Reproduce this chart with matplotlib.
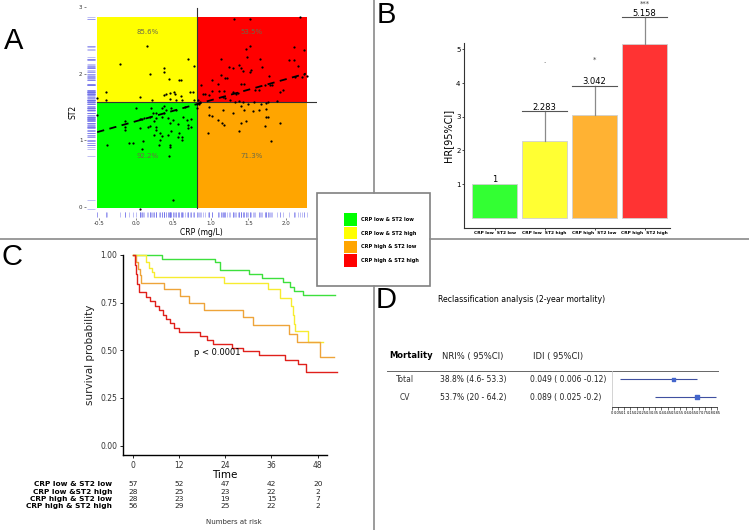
import numpy as np
import matplotlib
matplotlib.use("Agg")
import matplotlib.pyplot as plt
from matplotlib.patches import Rectangle
import matplotlib.transforms as mtransforms

W, H = 749, 530

# ---- panel A: CRP vs ST2 scatter
crp = [-0.52, -0.52, -0.40, -0.40, -0.39, -0.22, -0.15, -0.15, -0.15, -0.09,
       -0.04, 0.00, 0.05, 0.05, 0.06, 0.08, 0.09, 0.11, 0.05, 0.08,
       0.15, 0.18, 0.21, 0.20, 0.23, 0.16, 0.18, 0.26, 0.27, 0.26,
       0.27, 0.24, 0.32, 0.30, 0.35, 0.38, 0.38, 0.37, 0.40, 0.44,
       0.45, 0.46, 0.51, 0.52, 0.54, 0.57, 0.60, 0.60, 0.61, 0.37,
       0.37, 0.40, 0.35, 0.43, 0.47, 0.45, 0.49, 0.47, 0.43, 0.46,
       0.45, 0.44, 0.54, 0.56, 0.58, 0.61, 0.63, 0.65, 0.68, 0.69,
       0.70, 0.73, 0.74, 0.69, 0.72, 0.76, 0.77, 0.78, 0.81, 0.49,
       0.05, 0.61, 0.56, 0.32, 0.35, 0.24, 0.19,
       1.31, 1.52, 2.19, 1.53, 1.47, 2.11, 2.25, 1.13, 1.48, 1.66,
       2.04, 2.11, 2.16, 1.24, 1.30, 1.38, 1.41, 1.43, 1.53, 1.54,
       1.68, 1.13, 1.19, 1.22, 1.78, 1.01, 1.10, 1.41, 1.44, 0.87,
       1.01, 1.11, 1.18, 1.30, 1.34, 1.36, 1.59, 1.64, 1.72, 1.79,
       1.82, 1.92, 1.96, 2.12, 2.22, 2.25, 2.28, 0.89, 0.97, 1.16,
       1.19, 1.25, 1.32, 1.38, 1.43, 1.50, 1.58, 1.67, 1.74, 1.77,
       1.89, 0.83, 0.85, 0.84, 0.82, 0.97, 1.16, 1.30, 1.44, 1.56,
       1.65, 1.74, 1.40, 0.98, 1.01, 1.10, 1.15, 1.17, 1.41, 1.47,
       1.74, 1.77, 1.73, 1.93, 0.96, 1.38, 1.80, 0.92]
st2 = [1.64, 1.37, 1.72, 1.60, 0.93, 2.15, 1.29, 1.20, 1.15, 0.95,
       0.95, 1.49, 1.65, 1.31, 1.32, 1.31, 0.98, 1.33, 1.18, 0.86,
       2.42, 2.00, 1.61, 1.49, 1.41, 1.20, 1.21, 1.40, 1.33, 1.20,
       1.15, 1.08, 1.00, 0.93, 1.06, 2.08, 2.03, 1.68, 1.69, 1.92,
       1.71, 1.62, 1.73, 1.70, 1.60, 1.90, 1.90, 1.67, 1.60, 1.51,
       1.40, 1.45, 1.35, 1.33, 1.49, 1.26, 1.30, 1.13, 1.08, 0.90,
       0.93, 0.76, 1.45, 1.24, 1.11, 1.00, 1.35, 1.50, 1.30, 1.23,
       1.18, 1.31, 1.19, 2.22, 1.73, 1.72, 2.11, 1.61, 1.55, 0.10,
       -0.04, 1.05, 1.05, 1.11, 1.49, 1.29, 1.35,
       2.82, 2.82, 2.85, 2.42, 2.37, 2.40, 2.36, 2.22, 2.25, 2.22,
       2.20, 2.20, 2.12, 2.10, 2.08, 2.13, 2.09, 2.04, 2.03, 2.05,
       2.10, 1.98, 1.94, 1.94, 1.96, 1.90, 1.85, 1.85, 1.84, 1.83,
       1.74, 1.74, 1.74, 1.73, 1.69, 1.71, 1.75, 1.76, 1.83, 1.83,
       1.83, 1.73, 1.76, 1.95, 1.95, 1.99, 1.96, 1.70, 1.68, 1.65,
       1.63, 1.61, 1.57, 1.59, 1.58, 1.54, 1.58, 1.55, 1.56, 1.57,
       1.59, 1.60, 1.58, 1.55, 1.48, 1.50, 1.45, 1.41, 1.45, 1.43,
       1.45, 1.47, 1.52, 1.38, 1.36, 1.30, 1.26, 1.23, 1.25, 1.29,
       1.35, 1.35, 1.21, 1.25, 1.11, 1.14, 0.99, 1.69]
crp_cut, st2_cut = 0.82, 1.57
fit_intercept, fit_slope = 1.284, 0.315
quad_pct = ["85.6%", "53.5%", "92.2%", "71.3%"]

# ---- panel B: hazard ratios
groups = ["CRP low  ST2 low", "CRP low  ST2 high", "CRP high  ST2 low", "CRP high  ST2 high"]
hr = [1.0, 2.283, 3.042, 5.158]
hr_upper = [np.nan, 3.16, 3.92, 5.95]
sig = ["", ".", "*", "***"]
sig_y = [np.nan, 4.66, 4.7, 6.35]

# ---- panel C: Kaplan-Meier curves
km_green_t = [0, 7.5, 21.4, 22.7, 30.3, 33.5, 39.1, 40.8, 41.9, 44.3, 52.5]
km_green_s = [1.0, 0.98, 0.962, 0.921, 0.899, 0.878, 0.86, 0.834, 0.811, 0.79, 0.79]
km_yellow_t = [0, 3.5, 4.3, 5.0, 5.4, 23.7, 35.2, 38.3, 41.0, 41.6, 41.8, 42.0, 45.4, 49.5]
km_yellow_s = [1.0, 0.965, 0.93, 0.91, 0.886, 0.852, 0.822, 0.776, 0.73, 0.686, 0.64, 0.602, 0.546, 0.546]
km_orange_t = [0, 0.8, 1.3, 1.8, 2.2, 8.0, 12.4, 14.5, 18.5, 28.6, 31.1, 40.6, 42.6, 48.5, 52.3]
km_orange_s = [1.0, 0.964, 0.929, 0.893, 0.855, 0.82, 0.784, 0.748, 0.71, 0.672, 0.63, 0.586, 0.543, 0.464, 0.464]
km_red_t = [0, 0.5, 0.9, 1.2, 1.6, 3.5, 4.5, 5.8, 6.9, 7.9, 8.6, 9.7, 10.8, 12.0, 17.4,
            19.3, 20.8, 25.7, 28.7, 32.9, 39.6, 42.8, 45.0, 53.0]
km_red_s = [1.0, 0.946, 0.90, 0.85, 0.805, 0.78, 0.756, 0.733, 0.712, 0.686, 0.664, 0.641,
            0.618, 0.597, 0.576, 0.555, 0.534, 0.513, 0.494, 0.473, 0.45, 0.428, 0.386, 0.386]
risk_names = ["CRP low & ST2 low", "CRP low &ST2 high", "CRP high & ST2 low", "CRP high & ST2 high"]
risk_times = [0, 12, 24, 36, 48]
risk_counts = [[57, 52, 47, 42, 20],
               [28, 25, 23, 22, 2],
               [28, 23, 19, 15, 7],
               [56, 29, 25, 22, 2]]

# ---- panel D: reclassification table
d_rows = ["Total", "CV"]
d_nri = ["38.8% (4.6- 53.3)", "53.7% (20 - 64.2)"]
d_idi = ["0.049 ( 0.006 -0.12)", "0.089 ( 0.025 -0.2)"]
d_est = [0.50, 0.685]
d_lo = [0.07, 0.35]
d_hi = [0.685, 0.84]

legend_labels = ["CRP low & ST2 low", "CRP low & ST2 high", "CRP high & ST2 low", "CRP high & ST2 high"]
quad_colors = ["#00ff00", "#ffff00", "#ffa500", "#ff0000"]
bar_colors = ["#33ff33", "#ffff33", "#ffb233", "#ff3333"]
km_colors = ["#3de03d", "#f7ec30", "#eea43a", "#e0201b"]

fig = plt.figure(figsize=(W / 100, H / 100), dpi=100)


def pax(x0, y0, x1, y1):
    # axes placed by pixel box (top-left origin)
    a = fig.add_axes([x0 / W, 1 - y1 / H, (x1 - x0) / W, (y1 - y0) / H])
    a.patch.set_alpha(0)
    return a


bg = fig.add_axes([0, 0, 1, 1])
bg.set_xlim(0, W)
bg.set_ylim(H, 0)
bg.axis("off")

# frame lines between panels
lc = "#8a8a8a"
bg.plot([374, 374], [0, 193], color=lc, lw=1.2)
bg.plot([374, 374], [286, H], color=lc, lw=1.2)
bg.plot([0, 317], [239, 239], color=lc, lw=1.2)
bg.plot([430, W], [239, 239], color=lc, lw=1.2)
bg.add_patch(Rectangle((317, 193), 113, 93, fc="white", ec="#808080", lw=1.2))
for i, (lab, c) in enumerate(zip(legend_labels, quad_colors)):
    y = 219.3 + i * 13.8
    bg.add_patch(Rectangle((344, y - 6.3), 12.5, 12.6, fc=c, ec="none"))
    bg.text(361, y, lab, fontsize=3.6, fontweight="bold", va="center", ha="left")

for lab, x, y in [("A", 14, 41), ("B", 386, 15), ("C", 12, 257), ("D", 386, 300)]:
    bg.text(x, y, lab, fontsize=21, ha="center", va="center", family="Liberation Sans")

# ---------------- panel A
axA = pax(86, 5, 317, 218)
axA.set_xlim(-0.67, 2.42)
axA.set_ylim(-0.17, 3.03)
x_lo, x_hi, y_lo, y_hi = -0.52, 2.28, -0.02, 2.85
axA.add_patch(Rectangle((x_lo, st2_cut), crp_cut - x_lo, y_hi - st2_cut, fc=quad_colors[1], ec="none"))
axA.add_patch(Rectangle((crp_cut, st2_cut), x_hi - crp_cut, y_hi - st2_cut, fc=quad_colors[3], ec="none"))
axA.add_patch(Rectangle((x_lo, y_lo), crp_cut - x_lo, st2_cut - y_lo, fc=quad_colors[0], ec="none"))
axA.add_patch(Rectangle((crp_cut, y_lo), x_hi - crp_cut, st2_cut - y_lo, fc=quad_colors[2], ec="none"))
axA.plot([crp_cut, crp_cut], [y_lo, 2.99], color="#333333", lw=0.8)
axA.plot([x_lo, 2.42], [st2_cut, st2_cut], color="#333333", lw=0.8)
axA.scatter(crp, st2, s=2.6, color="black", lw=0, zorder=3, clip_on=False)
xf = np.array([-0.52, 2.27])
axA.plot(xf, fit_intercept + fit_slope * xf, color="black", lw=1.3, ls=(0, (4, 3)), zorder=4)
axA.vlines(crp, 0.005, 0.028, transform=axA.get_xaxis_transform(), color="#6a6ae8", lw=0.5, alpha=0.6)
axA.hlines(st2, 0.004, 0.039, transform=axA.get_yaxis_transform(), color="#6a6ae8", lw=0.5, alpha=0.6)
pct_xy = [(0.16, 2.62), (1.55, 2.62), (0.16, 0.76), (1.55, 0.76)]
for (px_, py_), t in zip(pct_xy, quad_pct):
    axA.text(px_, py_, t, fontsize=5, color="#6b6b4a", ha="center", va="center")
for s in axA.spines.values():
    s.set_visible(False)
axA.set_xticks([-0.5, 0, 0.5, 1, 1.5, 2])
axA.set_xticklabels(["-0.5", "0.0", "0.5", "1.0", "1.5", "2.0"])
axA.set_yticks([0, 1, 2, 3])
axA.tick_params(labelsize=4, length=1.5, width=0.5, color="#555555", pad=1, labelcolor="#333333")
axA.set_xlabel("CRP (mg/L)", fontsize=5.5, labelpad=1)
axA.set_ylabel("ST2", fontsize=5.5, labelpad=1)

# ---------------- panel B
axB = pax(464, 43, 670, 228)
axB.set_xlim(0.39, 4.51)
axB.set_ylim(-0.3, 5.19)
xb = np.arange(1, 5)
axB.bar(xb, hr, width=0.9, color=bar_colors, edgecolor="#d0d0d0", lw=0.6)
for x, h, u, sg, sy in zip(xb, hr, hr_upper, sig, sig_y):
    if np.isnan(u):
        axB.text(x, h, f"{h:g}", fontsize=6, ha="center", va="bottom")
        continue
    axB.plot([x, x], [h, u], color="#8a8a8a", lw=0.9, clip_on=False)
    axB.plot([x - 0.45, x + 0.45], [u, u], color="#555555", lw=0.8, clip_on=False)
    axB.text(x, u - 0.02, f"{h:.3f}", fontsize=6, ha="center", va="bottom", clip_on=False)
    axB.text(x, sy, sg, fontsize=5, ha="center", va="center", color="#444444", clip_on=False)
axB.spines["top"].set_visible(False)
axB.spines["right"].set_visible(False)
for s in ["left", "bottom"]:
    axB.spines[s].set_color("#333333")
    axB.spines[s].set_linewidth(0.8)
axB.set_yticks([1, 2, 3, 4, 5])
axB.set_xticks(xb)
axB.set_xticklabels(groups, fontsize=3.2, fontweight="bold")
axB.tick_params(axis="y", labelsize=5, length=1.5, width=0.5, pad=1)
axB.tick_params(axis="x", length=1.5, width=0.5, pad=1)
axB.set_ylabel("HR[95%CI]", fontsize=7, labelpad=2)

# ---------------- panel C
axC = pax(122.7, 255, 327.3, 455)
axC.set_xlim(-2.6, 50.5)
axC.set_ylim(-0.0497, 1.0)
km = [(km_green_t, km_green_s), (km_yellow_t, km_yellow_s),
      (km_orange_t, km_orange_s), (km_red_t, km_red_s)]
for (t, s), c in zip(km, km_colors):
    axC.plot(t, s, drawstyle="steps-post", color=c, lw=1.0, clip_on=False)
axC.text(21.9, 0.49, "p < 0.0001", fontsize=6, ha="center", va="center")
axC.spines["top"].set_visible(False)
axC.spines["right"].set_visible(False)
axC.spines["left"].set_linewidth(1.0)
axC.spines["bottom"].set_linewidth(1.0)
axC.set_xticks(risk_times)
axC.set_yticks([0, 0.25, 0.5, 0.75, 1.0])
axC.set_yticklabels(["0.00", "0.25", "0.50", "0.75", "1.00"])
axC.tick_params(labelsize=5.5, length=2, width=0.6, pad=2, labelcolor="#333333")
axC.set_xlabel("Time", fontsize=7.5, labelpad=0)
axC.set_ylabel("survival probability", fontsize=7.5, labelpad=4, color="#222222")
tr = mtransforms.blended_transform_factory(axC.transData, bg.transData)
for i, (name, counts) in enumerate(zip(risk_names, risk_counts)):
    y = 484.5 + i * 7.3
    bg.text(112, y, name, fontsize=5.3, fontweight="bold", ha="right", va="center")
    for t, n in zip(risk_times, counts):
        bg.text(t, y, str(n), fontsize=5.3, ha="center", va="center", transform=tr, color="#222222")
bg.text(234, 521.5, "Numbers at risk", fontsize=5, ha="center", va="center", color="#333333")

# ---------------- panel D
bg.text(438, 299, "Reclassification analysis (2-year mortality)", fontsize=5.6, ha="left", va="center")
bg.text(389, 356, "Mortality", fontsize=6, fontweight="bold", ha="left", va="center")
bg.text(441.5, 356, "NRI% ( 95%CI)", fontsize=6, ha="left", va="center", color="#222222")
bg.text(533, 356, "IDI ( 95%CI)", fontsize=6, ha="left", va="center", color="#222222")
bg.plot([386.7, 718], [370.7, 370.7], color="#666666", lw=0.7)
axD = pax(611.7, 371, 717.3, 406.7)
axD.set_xlim(0, 0.85)
axD.set_ylim(0.452, 2.47)
row_y = [2, 1]
for y, name, nri, idi in zip(row_y, d_rows, d_nri, d_idi):
    yp = 406.7 - (y - 0.452) * 17.7
    bg.text(405, yp, name, fontsize=5.5, ha="center", va="center", color="#333333")
    bg.text(440, yp, nri, fontsize=5.5, ha="left", va="center", color="#222222")
    bg.text(530, yp, idi, fontsize=5.5, ha="left", va="center", color="#222222")
axD.hlines(row_y, d_lo, d_hi, color="#4050a0", lw=0.8)
axD.scatter(d_est, row_y, marker="s", s=[5, 8], color="#4466cc", zorder=3)
axD.spines["top"].set_visible(False)
axD.spines["right"].set_visible(False)
axD.spines["left"].set_color("#cccccc")
axD.spines["left"].set_linewidth(0.6)
axD.spines["bottom"].set_linewidth(0.5)
ticks = np.round(np.arange(0, 0.851, 0.05), 2)
axD.set_xticks(ticks)
axD.set_xticklabels([f"{v:g}" for v in ticks])
axD.set_yticks([])
axD.tick_params(axis="x", labelsize=2.6, length=2, width=0.4, pad=1)

fig.savefig("out.png", dpi=100)
